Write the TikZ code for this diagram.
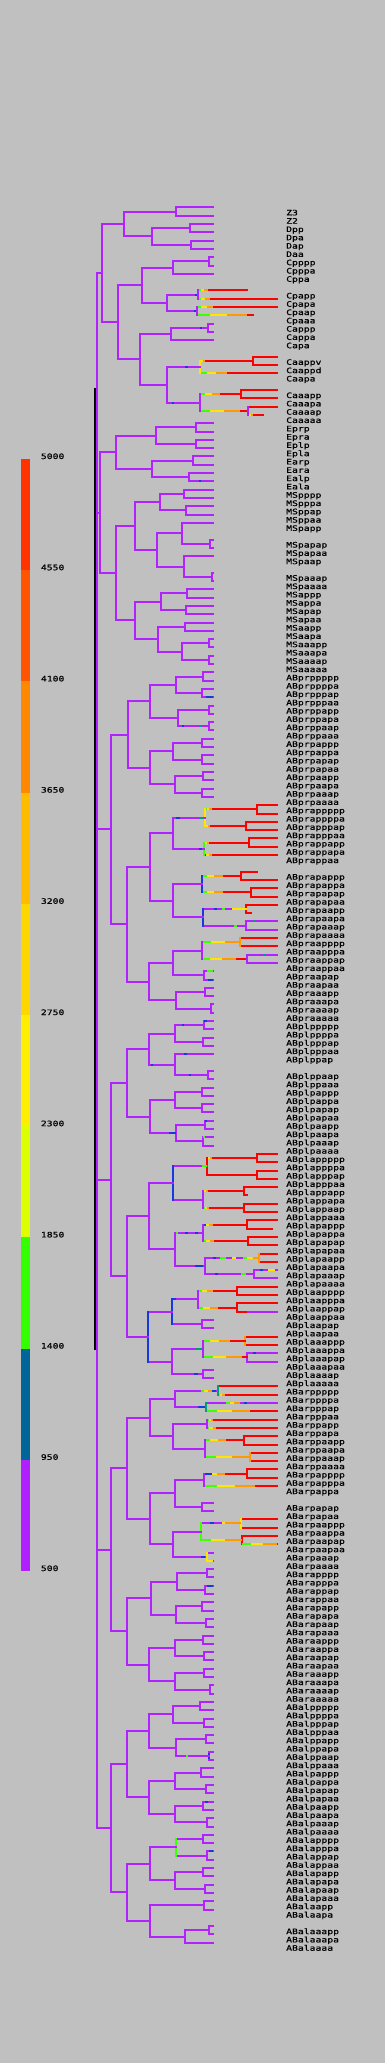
\documentclass[tikz,border=0pt]{standalone}
\usepackage{fontspec}
\newfontfamily\lblfont[FakeStretch=1.3,FakeBold=0.6]{DejaVu Sans Mono}
\definecolor{bgc}{HTML}{C0C0C0}
\definecolor{pl}{HTML}{B023FF}
\definecolor{bl}{HTML}{1838E0}
\definecolor{rd}{HTML}{FF0000}
\definecolor{yl}{HTML}{FFE600}
\definecolor{og}{HTML}{FF9A00}
\definecolor{gn}{HTML}{40FF00}
\definecolor{tl}{HTML}{00A070}
\definecolor{lga}{HTML}{FF3300}
\definecolor{lgb}{HTML}{FF5500}
\definecolor{lgc}{HTML}{FF8800}
\definecolor{lgd}{HTML}{FFBB00}
\definecolor{lge}{HTML}{FFD700}
\definecolor{lgf}{HTML}{FFEE00}
\definecolor{lgg}{HTML}{DDFF00}
\definecolor{lgh}{HTML}{33FF00}
\definecolor{lgi}{HTML}{006699}
\definecolor{lgj}{HTML}{B020FF}
\tikzset{br/.style={line width=2pt,line cap=rect},
 bt/.style={line width=2pt,line cap=butt},
 lbl/.style={anchor=base west,inner sep=0pt,font={\lblfont\fontsize{7.5pt}{8pt}\selectfont},text=black}}
\newcommand{\qV}[4][pl]{\draw[br,#1] (#2,{#3}) -- (#2,{#4});}
\newcommand{\qH}[4][pl]{\draw[br,#1] (#2,{#4}) -- (#3,{#4});}
\newcommand{\qP}[4][pl]{\qV[#1]{#2}{#3}{#3+1}\qH{#2}{213}{#3}\qH{#2}{213}{#3+1}\qH{#4}{#2}{#3+0.5}}
\newcommand{\qG}[3]{\draw[bt,yl] (#1,{#3}) -- (#2,{#3});
 \draw[bt,gn] (#1,{#3}) -- ({#1+0.25*(#2-#1)},{#3});
 \draw[bt,og] ({#1+0.6*(#2-#1)},{#3}) -- (#2,{#3});}
\newcommand{\qR}[4]{\draw[br,rd] (#2,{#4}) -- (#3,{#4});\qG{#1}{#2}{#4}}
\newcommand{\qB}[4]{\draw[bt,#4] (#1,{#3}) -- (#2,{#3});}
\newcommand{\qJ}[5][rd]{\draw[br,rd] (#2,{#3}) -- (#4,{#3}); \draw[br,rd] (#2,{#3+1}) -- (#5,{#3+1}); \draw[br,#1] (#2,{#3}) -- (#2,{#3+1});}
\newcommand{\qL}[2]{\node[lbl] (n#1) at (286,{#1+0.96}) {#2};}
\begin{document}
\begin{tikzpicture}[x=1pt,y=-8.303pt]
\fill[bgc] (0pt,207.4pt) rectangle (385pt,-1855.6pt);
\useasboundingbox (0pt,207.4pt) rectangle (385pt,-1855.6pt);
% legend
\fill[lga] (21pt,-251.6pt) rectangle (30pt,-362.8pt);
\fill[lgb] (21pt,-362.8pt) rectangle (30pt,-474.0pt);
\fill[lgc] (21pt,-474.0pt) rectangle (30pt,-585.2pt);
\fill[lgd] (21pt,-585.2pt) rectangle (30pt,-696.4pt);
\fill[lge] (21pt,-696.4pt) rectangle (30pt,-807.6pt);
\fill[lgf] (21pt,-807.6pt) rectangle (30pt,-918.8pt);
\fill[lgg] (21pt,-918.8pt) rectangle (30pt,-1030.0pt);
\fill[lgh] (21pt,-1030.0pt) rectangle (30pt,-1141.2pt);
\fill[lgi] (21pt,-1141.2pt) rectangle (30pt,-1252.4pt);
\fill[lgj] (21pt,-1252.4pt) rectangle (30pt,-1363.6pt);
\node[lbl] (k0) at (40.7pt,-251.6pt) {5000};
\node[lbl] (k1) at (40.7pt,-362.8pt) {4550};
\node[lbl] (k2) at (40.7pt,-474.0pt) {4100};
\node[lbl] (k3) at (40.7pt,-585.2pt) {3650};
\node[lbl] (k4) at (40.7pt,-696.4pt) {3200};
\node[lbl] (k5) at (40.7pt,-807.6pt) {2750};
\node[lbl] (k6) at (40.7pt,-918.8pt) {2300};
\node[lbl] (k7) at (40.7pt,-1030.0pt) {1850};
\node[lbl] (k8) at (40.7pt,-1141.2pt) {1400};
\node[lbl] (k9) at (40.7pt,-1252.4pt) {950};
\node[lbl] (k10) at (40.7pt,-1363.6pt) {500};
% root
\qV{96.8}{7.92}{195.2}
% Z D C
\qP{176}{0}{123.7}
\qP{189.7}{2}{151.7}
\qP{190.7}{4}{151.7}
\qV{151.7}{2.5}{4.5}\qH{123.7}{151.7}{3.5}
\qV{123.7}{0.5}{3.5}\qH{101.7}{123.7}{2}
\qP{209.3}{6}{172.7}
\qV{172.7}{6.5}{8}\qH{172.7}{213}{8}\qH{141.7}{172.7}{7.25}
\qH{166.7}{198.3}{10.5}\qB{195}{198}{10.5}{bl}
\qJ{198.3}{10}{246.7}{277}\draw[br,rd] (198.3,10) -- (198.3,11);
\qG{198.3}{208}{10}\qG{198.3}{210}{11}
\draw[br,pl] (198.3,10) -- (198.3,11);
\qH{166.7}{197.3}{12.5}\qB{194}{197}{12.5}{bl}
\draw[br,rd] (197.3,12) -- (277,12);\draw[br,rd] (197.3,13) -- (253.3,13);
\qG{197.3}{213}{12}\qG{197.3}{247}{13}
\draw[br,pl] (197.3,12) -- (197.3,13);
\qV{166.7}{10.5}{12.5}\qH{141.7}{166.7}{11.5}
\qV{141.7}{7.25}{11.5}\qH{117.7}{141.7}{9.375}
\qP{208.3}{14}{171}\qB{200}{202}{14.5}{bl}
\qV{171}{14.5}{16}\qH{171}{213}{16}\qH{140}{171}{15.25}
\qJ{252.7}{18}{277}{277}
\qR{200}{205}{252.7}{18.5}
\qR{200}{226.7}{277}{20}
\qV[yl]{200}{18.5}{20}
\qH{166.7}{200}{19.25}\qB{185}{188}{19.25}{bl}
\qJ{240.7}{22}{277}{277}
\qR{200}{220}{240.7}{22.5}
\draw[br,rd] (248,24) -- (277,24);
\qR{248}{253}{263.3}{25}
\qR{200}{240}{248}{24.5}
\qV{248}{24}{25}
\qV{200}{22.5}{24.5}\qH{166.7}{200}{23.5}\qB{171.7}{174}{23.5}{bl}
\qV{166.7}{19.25}{23.5}\qH{140}{166.7}{21.375}
\qV{140}{15.25}{21.375}\qH{117.7}{140}{18.31}
\qV{117.7}{9.375}{18.31}\qH{101.7}{117.7}{13.84}
\qV{101.7}{2}{13.84}\qH{96.8}{101.7}{7.92}
% E
\qP{196}{26}{156}\qP{196}{28}{156}
\qV{156}{26.5}{28.5}\qH{115.7}{156}{27.5}
\qP{192.7}{30}{152}\qP{189}{32}{152}\qB{199}{201}{33}{bl}
\qV{152}{30.5}{32.5}\qH{115.7}{152}{31.5}
\qV{115.7}{27.5}{31.5}\qH{99.5}{115.7}{29.5}
% MS
\qP{184}{34}{159.7}\qP{186}{36}{159.7}
\qV{159.7}{34.5}{36.5}\qH{134.7}{159.7}{35.5}
\qP{210}{40}{181.7}
\qV{181.7}{38}{40.5}\qH{181.7}{213}{38}\qH{156.7}{181.7}{39.25}
\qP{212}{44}{184}
\qV{184}{42}{44.5}\qH{184}{213}{42}\qH{156.7}{184}{43.25}
\qV{156.7}{39.25}{43.25}\qH{134.7}{156.7}{41.25}
\qV{134.7}{35.5}{41.25}\qH{115.7}{134.7}{38.375}
\qP{187}{46}{160.7}\qP{186}{48}{160.7}
\qV{160.7}{46.5}{48.5}\qH{134.7}{160.7}{47.5}
\qP{185}{50}{157.7}
\qP{209.3}{52}{181.7}\qP{209.3}{54}{181.7}
\qV{181.7}{52.5}{54.5}\qH{157.7}{181.7}{53.5}
\qV{157.7}{50.5}{53.5}\qH{134.7}{157.7}{52}
\qV{134.7}{47.5}{52}\qH{115.7}{134.7}{49.75}
\qV{115.7}{38.375}{49.75}\qH{99.5}{115.7}{44.06}
\qV{99.5}{29.5}{44.06}\qH{96.8}{99.5}{36.8}
% ABpr
\qP{202.7}{56}{176}\qP{201.7}{58}{176}\qB{206}{213}{59}{bl}
\qV{176}{56.5}{58.5}\qH{150}{176}{57.5}
\qP{209.3}{60}{177.7}\qP{209.3}{62}{177.7}\qB{182}{183.5}{62.5}{bl}\qB{199.5}{201.5}{62.5}{tl}
\qV{177.7}{60.5}{62.5}\qH{150}{177.7}{61.5}
\qV{150}{57.5}{61.5}\qH{127.7}{150}{59.5}
\qP{201.7}{64}{173.3}\qP{201.7}{66}{173.3}
\qV{173.3}{64.5}{66.5}\qH{150}{173.3}{65.5}
\qP{202.7}{68}{175}\qP{201.7}{70}{175}
\qV{175}{68.5}{70.5}\qH{150}{175}{69.5}
\qV{150}{65.5}{69.5}\qH{127.7}{150}{67.5}
\qV{127.7}{59.5}{67.5}\qH{110.7}{127.7}{63.5}
% ABpra
\qJ{256.7}{72}{277}{277}\qR{205}{212}{256.7}{72.5}
\qJ{245.7}{74}{277}{277}\qR{205}{210}{245.7}{74.5}
\qV[yl]{205}{72.5}{74.5}
\qH{173.3}{205}{73.5}\qB{176}{180}{73.5}{bl}\qB{199}{203}{73.5}{tl}
\qJ{249}{76}{277}{277}\qR{204}{209}{249}{76.5}
\qR{204}{212}{277}{78}\qB{204}{206}{78}{bl}
\qV[gn]{204}{76.5}{78}
\qH{173.3}{204}{77.25}\qB{199}{202}{77.25}{bl}
\qV{173.3}{73.5}{77.25}\qH{150}{173.3}{75.375}
\qJ{240.7}{80}{256.7}{277}\qR{201.7}{223}{240.7}{80.5}
\qJ{251}{82}{277}{277}\qR{201.7}{223}{251}{82.5}
\qV[bl]{201.7}{80.5}{82.5}
\qH{173.3}{201.7}{81.5}
\qJ{245.7}{84}{277}{251}
\draw[br,yl] (202.7,84.5) -- (245.7,84.5);\qB{202.7}{232}{84.5}{pl}\qB{214}{217}{84.5}{bl}\qB{222}{225}{84.5}{gn}
\draw[br,pl] (245.7,86) -- (277,86);\draw[br,pl] (245.7,87) -- (277,87);\qV{245.7}{86}{87}
\qH{202.7}{245.7}{86.5}\qB{234}{237}{86.5}{gn}\qB{253}{256}{86}{tl}
\qV[bl]{202.7}{84.5}{86.5}
\qH{173.3}{202.7}{85.5}
\qV{173.3}{81.5}{85.5}\qH{150}{173.3}{83.5}
\qV{150}{75.375}{83.5}\qH{126.7}{150}{79.44}
\qJ[og]{240}{88}{277}{277}\qG{201.7}{240}{88.5}
\draw[br,pl] (246.7,90) -- (277,90);\draw[br,pl] (246.7,91) -- (277,91);
\qR{201.7}{236}{246.7}{90.5}\qV{246.7}{90}{91}\qB{263}{266}{90}{tl}
\qV{201.7}{88.5}{90.5}\qH{173.3}{201.7}{89.5}
\qP{204}{92}{173.3}\qB{207}{213}{92}{gn}\qB{208}{213}{93}{bl}
\qV{173.3}{89.5}{92.5}\qH{149.3}{173.3}{91}
\qP{205}{94}{176}\qP{211}{96}{176}
\qV{176}{94.5}{96.5}\qH{149.3}{176}{95.5}
\qV{149.3}{91}{95.5}\qH{126.7}{149.3}{93.25}
\qV{126.7}{79.44}{93.25}\qH{110.7}{126.7}{86.34}
\qV{110.7}{63.5}{86.34}\qH{96.8}{110.7}{74.9}
% ABpl
\qP{204}{98}{175}\qB{204}{207}{98}{bl}\qB{182}{184}{98.5}{bl}
\qP{202.7}{100}{175}
\qV{175}{98.5}{100.5}\qH{149.3}{175}{99.5}
\qV{175}{102}{104.5}\qH{175}{213}{102}\qB{184}{187}{102}{bl}
\qP{208.3}{104}{175}\qB{189}{191}{104.5}{bl}
\qH{149.3}{175}{103.25}\qB{151}{153}{103.25}{bl}
\qV{149.3}{99.5}{103.25}\qH{126.7}{149.3}{101.375}
\qP{201.7}{106}{175}\qP{201.7}{108}{175}
\qV{175}{106.5}{108.5}\qH{150}{175}{107.5}
\qP{205}{110}{176}\qB{205}{207}{110}{bl}
\qP{202.7}{112}{176}\qB{203}{205}{112}{gn}
\qV{176}{110.5}{112.5}\qH{150}{176}{111.5}\qB{169}{176}{111.5}{bl}
\qV{150}{107.5}{111.5}\qH{126.7}{150}{109.5}
\qV{126.7}{101.375}{109.5}\qH{110.7}{126.7}{105.44}
\qJ{256.7}{114}{277}{277}\qR{207.3}{212}{256.7}{114.5}
\qJ{256.7}{116}{277}{277}\draw[br,rd] (207.3,116.5) -- (256.7,116.5);
\qV[rd]{207.3}{114.5}{116.5}
\qH{173.3}{207.3}{115.5}\qB{202}{207}{115.5}{gn}
\qJ{244}{118}{277}{246.7}\qR{203.3}{208}{244}{118.5}
\qJ{244}{120}{277}{277}\qR{203.3}{209}{244}{120.5}
\qV{203.3}{118.5}{120.5}
\qH{173.3}{203.3}{119.5}
\qV[bl]{173.3}{115.5}{119.5}\qH{149.3}{173.3}{117.5}
\qJ{246.7}{122}{277}{271.7}\qR{203.3}{213}{246.7}{122.5}\qB{203.3}{206}{122.5}{bl}
\qJ{247.7}{124}{277}{277}\qR{203.3}{214}{247.7}{124.5}
\qV{203.3}{122.5}{124.5}
\qH{175}{203.3}{123.5}\qB{175}{178}{123.5}{gn}\qB{185}{188}{123.5}{bl}\qB{195}{198}{123.5}{bl}
\qJ[og]{259.3}{126}{277}{277}
\draw[br,pl] (205,126.5) -- (243,126.5);\qG{243}{259.3}{126.5}
\qB{213}{216}{126.5}{bl}\qB{220}{226}{126.5}{gn}\qB{232}{236}{126.5}{yl}
\draw[br,pl] (254,128) -- (277,128);\draw[br,pl] (254,129) -- (277,129);\qV{254}{128}{129}
\qB{260}{263}{128}{bl}\qB{268}{275}{128}{yl}
\qH{205}{254}{128.5}\qB{215}{218}{128.5}{bl}\qB{241}{246}{128.5}{gn}
\qV{205}{126.5}{128.5}
\qH{175}{205}{127.5}\qB{195}{203}{127.5}{bl}
\qV{175}{123.5}{127.5}\qH{149.3}{175}{125.5}
\qV{149.3}{117.5}{125.5}\qH{126.7}{149.3}{121.5}
\qJ{237.3}{130}{277}{277}\qR{198.3}{213}{237.3}{130.5}
\qJ{236.7}{132}{277}{246.7}\draw[br,pl] (248,133) -- (277,133);
\qR{198.3}{218}{236.7}{132.5}
\qV{198.3}{130.5}{132.5}
\qH{171.7}{198.3}{131.5}\qB{171.7}{176}{131.5}{bl}
\qP{201.7}{134}{171.7}
\qV[bl]{171.7}{131.5}{134.5}\qH{148.3}{171.7}{133}
\qJ[og]{245}{136}{277}{277}\qR{202.7}{230}{245}{136.5}
\draw[br,pl] (246.7,138) -- (277,138);\draw[br,pl] (246.7,139) -- (277,139);\qV{246.7}{138}{139}
\qR{202.7}{242}{246.7}{138.5}\qB{253}{256}{138}{bl}
\qV{202.7}{136.5}{138.5}
\qH{172.3}{202.7}{137.5}\qB{196}{202}{137.5}{tl}
\qP{202.7}{140}{172.3}\qB{194}{198}{140.5}{bl}
\qV{172.3}{137.5}{140.5}\qH{148.3}{172.3}{139}
\qV[bl]{148.3}{133}{139}\qH{126.7}{148.3}{136}
\qV{126.7}{121.5}{136}\qH{110.7}{126.7}{128.75}
\qV{110.7}{105.44}{128.75}\qH{96.8}{110.7}{117.1}
% ABar
\draw[br,rd] (218.3,142) -- (277,142);\qR{218.3}{225}{277}{143}
\qH{175}{218.3}{142.5}\qG{201}{212}{142.5}\qB{212}{216}{142.5}{bl}
\qV[tl]{218.3}{142}{143}
\draw[br,pl] (206,144) -- (277,144);\qG{226}{240}{144}\qB{244}{247}{144}{bl}
\qR{206}{250}{277}{145}
\qH{175}{206}{144.5}\qB{198}{206}{144.5}{bl}
\qV[tl]{206}{144}{145}
\qV{175}{142.5}{144.5}\qH{150}{175}{143.5}
\qR{207.3}{213}{277}{146}\qR{207.3}{216}{277}{147}
\qV{207.3}{146}{147}\qH{173.3}{207.3}{146.5}
\qJ{244}{148}{277}{277}\qR{205}{226}{244}{148.5}
\qJ[og]{250}{150}{277}{277}\qG{205}{250}{150.5}
\qV{205}{148.5}{150.5}\qH{173.3}{205}{149.5}
\qV{173.3}{146.5}{149.5}\qH{150}{173.3}{148}
\qV{150}{143.5}{148}\qH{126.7}{150}{145.75}
\qJ{246.7}{152}{277}{277}\qR{204}{225}{246.7}{152.5}\qB{204}{212}{152.5}{bl}
\qR{204}{255}{277}{154}
\qV{204}{152.5}{154}\qH{175}{204}{153.25}
\qP{201.7}{156}{175}
\qV{175}{153.25}{156.5}\qH{150}{175}{154.875}
\qJ[yl]{240.7}{158}{277}{277}\qG{200.7}{240.7}{158.5}\qB{200.7}{222}{158.5}{pl}\qB{210}{214}{158.5}{bl}
\qJ{241.7}{160}{277}{277}\qG{200.7}{241.7}{160.5}\qG{241.7}{277}{161}
\qV[gn]{200.7}{158.5}{160.5}\qH{173.3}{200.7}{159.5}
\qP{206.7}{162}{173.3}\qB{206.7}{213}{163}{yl}\qB{201}{205}{162.5}{bl}
\qV[yl]{206.7}{162}{163}
\qV{173.3}{159.5}{162.5}\qH{150}{173.3}{161}
\qV{150}{154.875}{161}\qH{126.7}{150}{157.94}
\qV{126.7}{145.75}{157.94}\qH{110.7}{126.7}{151.84}
\qP{206.7}{164}{176.7}\qP{205}{166}{176.7}\qB{207}{213}{166}{bl}
\qV{176.7}{164.5}{166.5}\qH{150.7}{176.7}{165.5}
\qP{201.7}{168}{175.7}\qP{205.7}{170}{175.7}
\qV{175.7}{168.5}{170.5}\qH{150.7}{175.7}{169.5}
\qV{150.7}{165.5}{169.5}\qH{126.7}{150.7}{167.5}
\qP{203.3}{172}{175}\qP{204.3}{174}{175}
\qV{175}{172.5}{174.5}\qH{149}{175}{173.5}
\qP{204.3}{176}{175}\qP{210}{178}{175}
\qV{175}{176.5}{178.5}\qH{149}{175}{177.5}
\qV{149}{173.5}{177.5}\qH{126.7}{149}{175.5}
\qV{126.7}{167.5}{175.5}\qH{110.7}{126.7}{171.5}
\qV{110.7}{151.84}{171.5}\qH{96.8}{110.7}{161.67}
% ABal
\qP{200}{180}{172.7}\qP{204}{182}{172.7}
\qV{172.7}{180.5}{182.5}\qH{149}{172.7}{181.5}
\qP{206}{184}{175.7}\qP[bl]{209}{186}{175.7}\qB{186}{188}{186.5}{gn}
\qV{175.7}{184.5}{186.5}\qH{149}{175.7}{185.5}
\qV{149}{181.5}{185.5}\qH{126.7}{149}{183.5}
\qP{200.7}{188}{175}\qP{206}{190}{175}
\qV{175}{188.5}{190.5}\qH{149}{175}{189.5}
\qP{203.3}{192}{175}\qB{205}{208}{192}{bl}\qP{206.7}{194}{175}
\qV{175}{192.5}{194.5}\qH{149}{175}{193.5}
\qV{149}{189.5}{193.5}\qH{126.7}{149}{191.5}
\qV{126.7}{183.5}{191.5}\qH{110.7}{126.7}{187.5}
\qP{202.7}{196}{176}\qP{207.3}{198}{176}\qB{209}{213}{198}{bl}
\qV[gn]{176}{196.5}{198.5}\qH{150}{176}{197.5}
\qP{203}{200}{175}\qP{205}{202}{175}
\qV{175}{200.5}{202.5}\qH{150}{175}{201.5}
\qV{150}{197.5}{201.5}\qH{126.7}{150}{199.5}
\qP{204}{204}{150}
\qP{209}{207}{185}
\qV{185}{207.5}{209}\qH{185}{213}{209}\qH{150}{185}{208.25}
\qV{150}{204.5}{208.25}\qH{126.7}{150}{206.375}
\qV{126.7}{199.5}{206.375}\qH{110.7}{126.7}{202.94}
\qV{110.7}{187.5}{202.94}\qH{96.8}{110.7}{195.2}
% black bar
\draw[bt,black] (95,21.75) -- (95,137.6);
% labels
\qL{0}{Z3}\qL{1}{Z2}\qL{2}{Dpp}\qL{3}{Dpa}\qL{4}{Dap}\qL{5}{Daa}
\qL{6}{Cpppp}\qL{7}{Cpppa}\qL{8}{Cppa}
\qL{10}{Cpapp}\qL{11}{Cpapa}\qL{12}{Cpaap}\qL{13}{Cpaaa}
\qL{14}{Cappp}\qL{15}{Cappa}\qL{16}{Capa}
\qL{18}{Caappv}\qL{19}{Caappd}\qL{20}{Caapa}
\qL{22}{Caaapp}\qL{23}{Caaapa}\qL{24}{Caaaap}\qL{25}{Caaaaa}
\qL{26}{Eprp}\qL{27}{Epra}\qL{28}{Eplp}\qL{29}{Epla}
\qL{30}{Earp}\qL{31}{Eara}\qL{32}{Ealp}\qL{33}{Eala}
\qL{34}{MSpppp}\qL{35}{MSpppa}\qL{36}{MSppap}\qL{37}{MSppaa}\qL{38}{MSpapp}
\qL{40}{MSpapap}\qL{41}{MSpapaa}\qL{42}{MSpaap}
\qL{44}{MSpaaap}\qL{45}{MSpaaaa}
\qL{46}{MSappp}\qL{47}{MSappa}\qL{48}{MSapap}\qL{49}{MSapaa}
\qL{50}{MSaapp}\qL{51}{MSaapa}\qL{52}{MSaaapp}\qL{53}{MSaaapa}\qL{54}{MSaaaap}\qL{55}{MSaaaaa}
\qL{56}{ABprppppp}\qL{57}{ABprppppa}\qL{58}{ABprpppap}\qL{59}{ABprpppaa}
\qL{60}{ABprppapp}\qL{61}{ABprppapa}\qL{62}{ABprppaap}\qL{63}{ABprppaaa}
\qL{64}{ABprpappp}\qL{65}{ABprpappa}\qL{66}{ABprpapap}\qL{67}{ABprpapaa}
\qL{68}{ABprpaapp}\qL{69}{ABprpaapa}\qL{70}{ABprpaaap}\qL{71}{ABprpaaaa}
\qL{72}{ABprappppp}\qL{73}{ABprappppa}\qL{74}{ABprapppap}\qL{75}{ABprapppaa}
\qL{76}{ABprappapp}\qL{77}{ABprappapa}\qL{78}{ABprappaa}
\qL{80}{ABprapappp}\qL{81}{ABprapappa}\qL{82}{ABprapapap}\qL{83}{ABprapapaa}
\qL{84}{ABprapaapp}\qL{85}{ABprapaapa}\qL{86}{ABprapaaap}\qL{87}{ABprapaaaa}
\qL{88}{ABpraapppp}\qL{89}{ABpraapppa}\qL{90}{ABpraappap}\qL{91}{ABpraappaa}
\qL{92}{ABpraapap}\qL{93}{ABpraapaa}\qL{94}{ABpraaapp}\qL{95}{ABpraaapa}
\qL{96}{ABpraaaap}\qL{97}{ABpraaaaa}
\qL{98}{ABplppppp}\qL{99}{ABplppppa}\qL{100}{ABplpppap}\qL{101}{ABplpppaa}
\qL{102}{ABplppap}\qL{104}{ABplppaap}\qL{105}{ABplppaaa}
\qL{106}{ABplpappp}\qL{107}{ABplpappa}\qL{108}{ABplpapap}\qL{109}{ABplpapaa}
\qL{110}{ABplpaapp}\qL{111}{ABplpaapa}\qL{112}{ABplpaaap}\qL{113}{ABplpaaaa}
\qL{114}{ABplappppp}\qL{115}{ABplappppa}\qL{116}{ABplapppap}\qL{117}{ABplapppaa}
\qL{118}{ABplappapp}\qL{119}{ABplappapa}\qL{120}{ABplappaap}\qL{121}{ABplappaaa}
\qL{122}{ABplapappp}\qL{123}{ABplapappa}\qL{124}{ABplapapap}\qL{125}{ABplapapaa}
\qL{126}{ABplapaapp}\qL{127}{ABplapaapa}\qL{128}{ABplapaaap}\qL{129}{ABplapaaaa}
\qL{130}{ABplaapppp}\qL{131}{ABplaapppa}\qL{132}{ABplaappap}\qL{133}{ABplaappaa}
\qL{134}{ABplaapap}\qL{135}{ABplaapaa}
\qL{136}{ABplaaappp}\qL{137}{ABplaaappa}\qL{138}{ABplaaapap}\qL{139}{ABplaaapaa}
\qL{140}{ABplaaaap}\qL{141}{ABplaaaaa}
\qL{142}{ABarppppp}\qL{143}{ABarppppa}\qL{144}{ABarpppap}\qL{145}{ABarpppaa}
\qL{146}{ABarppapp}\qL{147}{ABarppapa}\qL{148}{ABarppaapp}\qL{149}{ABarppaapa}
\qL{150}{ABarppaaap}\qL{151}{ABarppaaaa}\qL{152}{ABarpapppp}\qL{153}{ABarpapppa}
\qL{154}{ABarpappa}\qL{156}{ABarpapap}\qL{157}{ABarpapaa}
\qL{158}{ABarpaappp}\qL{159}{ABarpaappa}\qL{160}{ABarpaapap}\qL{161}{ABarpaapaa}
\qL{162}{ABarpaaap}\qL{163}{ABarpaaaa}
\qL{164}{ABarapppp}\qL{165}{ABarapppa}\qL{166}{ABarappap}\qL{167}{ABarappaa}
\qL{168}{ABarapapp}\qL{169}{ABarapapa}\qL{170}{ABarapaap}\qL{171}{ABarapaaa}
\qL{172}{ABaraappp}\qL{173}{ABaraappa}\qL{174}{ABaraapap}\qL{175}{ABaraapaa}
\qL{176}{ABaraaapp}\qL{177}{ABaraaapa}\qL{178}{ABaraaaap}\qL{179}{ABaraaaaa}
\qL{180}{ABalppppp}\qL{181}{ABalppppa}\qL{182}{ABalpppap}\qL{183}{ABalpppaa}
\qL{184}{ABalppapp}\qL{185}{ABalppapa}\qL{186}{ABalppaap}\qL{187}{ABalppaaa}
\qL{188}{ABalpappp}\qL{189}{ABalpappa}\qL{190}{ABalpapap}\qL{191}{ABalpapaa}
\qL{192}{ABalpaapp}\qL{193}{ABalpaapa}\qL{194}{ABalpaaap}\qL{195}{ABalpaaaa}
\qL{196}{ABalapppp}\qL{197}{ABalapppa}\qL{198}{ABalappap}\qL{199}{ABalappaa}
\qL{200}{ABalapapp}\qL{201}{ABalapapa}\qL{202}{ABalapaap}\qL{203}{ABalapaaa}
\qL{204}{ABalaapp}\qL{205}{ABalaapa}
\qL{207}{ABalaaapp}\qL{208}{ABalaaapa}\qL{209}{ABalaaaa}
\end{tikzpicture}
\end{document}
